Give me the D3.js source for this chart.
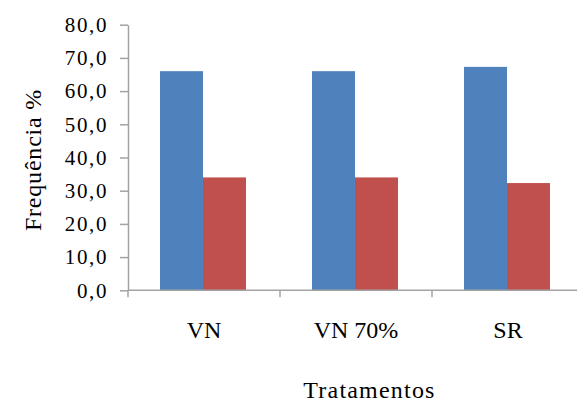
<!DOCTYPE html>
<html>
<head>
<meta charset="utf-8">
<script src="https://cdn.jsdelivr.net/npm/d3@7/dist/d3.min.js"></script>
<style>
  html, body { margin: 0; padding: 0; background: #ffffff; }
  svg { display: block; }
</style>
</head>
<body>
<svg id="chart" width="577" height="404"></svg>
<script>
// Treatments and the two series (percent frequency)
const categories = ["VN", "VN 70%", "SR"];
const seriesNames = ["s1", "s2"];
const seriesA = [66.0, 66.0, 67.3];
const seriesB = [34.0, 34.0, 32.3];
const yTicks = [0, 10, 20, 30, 40, 50, 60, 70, 80];
const yTitle = "Frequência %";
const xTitle = "Tratamentos";
const colors = ["#4f81bd", "#c0504d"];

const rows = categories.map((c, i) => ({ cat: c, values: [seriesA[i], seriesB[i]] }));

const svg = d3.select("#chart");
const plot = { left: 128, right: 584, top: 24.7, bottom: 290.3 };
const axisColor = "#a3a3a3";
const serif = "'Liberation Serif', 'Times New Roman', serif";

const x = d3.scaleBand().domain(categories).range([plot.left, plot.right]).padding(0);
const x1 = d3.scaleBand().domain(seriesNames).range([32, 118]).padding(0);
const y = d3.scaleLinear().domain([0, 80]).range([plot.bottom, plot.top]);

const ptBR = d3.formatLocale({ decimal: ",", thousands: ".", grouping: [3], currency: ["", ""] });
const fmt = ptBR.format(".1f");

// bars
const groups = svg.append("g").selectAll("g")
  .data(rows).join("g")
  .attr("transform", d => `translate(${x(d.cat)},0)`);

groups.selectAll("rect")
  .data(d => d.values.map((v, k) => ({ key: seriesNames[k], v, k })))
  .join("rect")
  .attr("x", d => x1(d.key))
  .attr("width", x1.bandwidth())
  .attr("y", d => y(d.v))
  .attr("height", d => y(0) - y(d.v))
  .attr("fill", d => colors[d.k]);

// y axis
const yAxis = svg.append("g")
  .attr("transform", `translate(${plot.left},0)`)
  .call(d3.axisLeft(y).tickValues(yTicks).tickFormat(fmt).tickSize(8).tickPadding(12).tickSizeOuter(0));
yAxis.attr("font-family", serif).attr("font-size", 21);
yAxis.select(".domain").attr("stroke", axisColor).attr("stroke-width", 1.5);
yAxis.selectAll(".tick line").attr("stroke", axisColor).attr("stroke-width", 1.5);
yAxis.selectAll(".tick text")
  .attr("fill", "#000")
  .attr("dy", "0.32em")
  .style("letter-spacing", "1.6px");

// x axis: ticks on the category boundaries
const xAxis = svg.append("g")
  .attr("transform", `translate(0,${plot.bottom})`);
xAxis.append("line")
  .attr("x1", plot.left).attr("x2", plot.right)
  .attr("stroke", axisColor).attr("stroke-width", 1.5);
const bounds = categories.map(c => x(c)).concat([x(categories[categories.length - 1]) + x.bandwidth()]);
xAxis.selectAll("line.bound")
  .data(bounds).join("line")
  .attr("class", "bound")
  .attr("x1", d => d).attr("x2", d => d)
  .attr("y1", 0).attr("y2", 7)
  .attr("stroke", axisColor).attr("stroke-width", 1.5);

// category labels
svg.append("g").selectAll("text")
  .data(categories).join("text")
  .attr("x", d => x(d) + x.bandwidth() / 2)
  .attr("y", 338)
  .attr("text-anchor", "middle")
  .attr("font-family", serif)
  .attr("font-size", 24)
  .attr("fill", "#000")
  .text(d => d);

// axis titles
svg.append("text")
  .attr("x", 369.5)
  .attr("y", 398)
  .attr("text-anchor", "middle")
  .attr("font-family", serif)
  .attr("font-size", 24)
  .attr("fill", "#000")
  .style("letter-spacing", "1.2px")
  .text(xTitle);

svg.append("text")
  .attr("transform", `translate(41,160) rotate(-90)`)
  .attr("text-anchor", "middle")
  .attr("font-family", serif)
  .attr("font-size", 24)
  .attr("fill", "#000")
  .style("letter-spacing", "0.8px")
  .text(yTitle);
</script>
</body>
</html>
